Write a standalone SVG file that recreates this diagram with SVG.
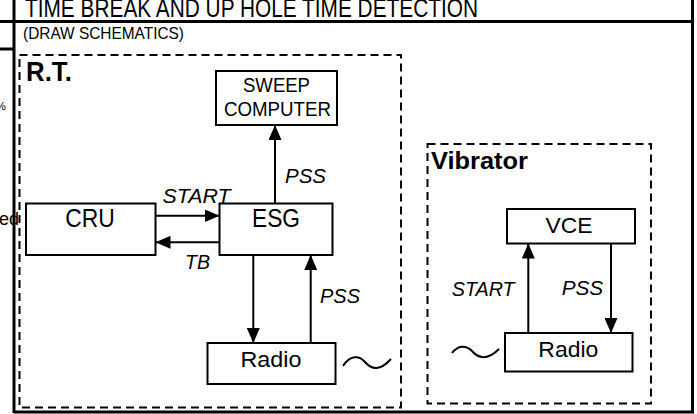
<svg xmlns="http://www.w3.org/2000/svg" width="697" height="414" viewBox="0 0 697 414">
<style>
text{font-family:"Liberation Sans",Arial,sans-serif;fill:#000}
.box{fill:#fff;stroke:#000;stroke-width:2}
.dash{fill:none;stroke:#000;stroke-width:2;stroke-dasharray:8 5}
.frame{stroke:#000;stroke-width:3;fill:none}
.conn{stroke:#000;stroke-width:2;fill:none}
.lbl{font-style:italic;font-size:20px}
.mid{text-anchor:middle}
</style>
<defs>
<marker id="ah" markerUnits="userSpaceOnUse" markerWidth="15" markerHeight="13" refX="15" refY="6.5" orient="auto">
<path d="M0,0 L15,6.5 L0,13 z" fill="#000"/>
</marker>
</defs>
<rect width="697" height="414" fill="#fff"/>
<g id="frame">
<line class="frame" x1="0" y1="21.5" x2="693" y2="21.5"/>
<line class="frame" x1="0" y1="49" x2="14" y2="49"/>
<line class="frame" x1="14" y1="0" x2="14" y2="413"/>
<line class="frame" x1="692.5" y1="0" x2="692.5" y2="413"/>
<line class="frame" x1="14" y1="412" x2="694" y2="412"/>
</g>
<text x="25" y="16.8" font-size="26" textLength="453" lengthAdjust="spacingAndGlyphs">TIME BREAK AND UP HOLE TIME DETECTION</text>
<text x="23" y="39" font-size="17" textLength="161" lengthAdjust="spacingAndGlyphs">(DRAW SCHEMATICS)</text>
<text x="-4" y="110" font-size="11">%</text>
<text x="-1" y="225" font-size="18">ed</text>
<g id="rt-group">
<rect class="dash" x="19.5" y="55" width="381.5" height="352.5"/>
<text x="26" y="81" font-size="28" font-weight="bold" textLength="46" lengthAdjust="spacingAndGlyphs">R.T.</text>
</g>
<g id="vibrator-group">
<rect class="dash" x="427.5" y="144" width="223.5" height="259.5"/>
<text x="431" y="168.5" font-size="23" font-weight="bold" textLength="97" lengthAdjust="spacingAndGlyphs">Vibrator</text>
</g>
<g id="sweep">
<rect class="box" x="216" y="71" width="121" height="54"/>
<text class="mid" x="276.5" y="91.5" font-size="21" textLength="67" lengthAdjust="spacingAndGlyphs">SWEEP</text>
<text class="mid" x="277.5" y="115.5" font-size="21" textLength="107" lengthAdjust="spacingAndGlyphs">COMPUTER</text>
</g>
<g id="cru">
<rect class="box" x="26" y="203.5" width="129.5" height="51.5"/>
<text class="mid" x="90" y="226.5" font-size="25" textLength="49.5" lengthAdjust="spacingAndGlyphs">CRU</text>
</g>
<g id="esg">
<rect class="box" x="219.5" y="203.5" width="113" height="51.5"/>
<text class="mid" x="276" y="226.5" font-size="25" textLength="48" lengthAdjust="spacingAndGlyphs">ESG</text>
</g>
<g id="radio-rt">
<rect class="box" x="207.5" y="343" width="128" height="41"/>
<text class="mid" x="271" y="367" font-size="22.5" textLength="61" lengthAdjust="spacingAndGlyphs">Radio</text>
</g>
<g id="vce">
<rect class="box" x="507" y="209" width="128" height="34.5"/>
<text class="mid" x="569" y="233.3" font-size="22.5" textLength="47" lengthAdjust="spacingAndGlyphs">VCE</text>
</g>
<g id="radio-vib">
<rect class="box" x="505" y="333" width="127.5" height="38.5"/>
<text class="mid" x="568.3" y="356.7" font-size="22.5" textLength="60" lengthAdjust="spacingAndGlyphs">Radio</text>
</g>
<g id="connectors">
<line class="conn" x1="155.5" y1="215.7" x2="219.5" y2="215.7" marker-end="url(#ah)"/>
<line class="conn" x1="219.5" y1="242.3" x2="155.5" y2="242.3" marker-end="url(#ah)"/>
<line class="conn" x1="275" y1="203.5" x2="275" y2="125" marker-end="url(#ah)"/>
<line class="conn" x1="253.3" y1="255" x2="253.3" y2="343" marker-end="url(#ah)"/>
<line class="conn" x1="310.7" y1="343" x2="310.7" y2="255" marker-end="url(#ah)"/>
<line class="conn" x1="528.3" y1="333" x2="528.3" y2="243.5" marker-end="url(#ah)"/>
<line class="conn" x1="611" y1="243.5" x2="611" y2="333" marker-end="url(#ah)"/>
<text class="lbl" x="162.5" y="203" textLength="68" lengthAdjust="spacingAndGlyphs">START</text>
<text class="lbl" x="185" y="269" font-size="19" textLength="25" lengthAdjust="spacingAndGlyphs">TB</text>
<text class="lbl" x="285" y="182.5" textLength="41" lengthAdjust="spacingAndGlyphs">PSS</text>
<text class="lbl" x="320" y="302.5" textLength="40" lengthAdjust="spacingAndGlyphs">PSS</text>
<text class="lbl" x="451.7" y="296" textLength="63" lengthAdjust="spacingAndGlyphs">START</text>
<text class="lbl" x="561.7" y="295" textLength="41.5" lengthAdjust="spacingAndGlyphs">PSS</text>
</g>
<g id="waves">
<path class="conn" stroke-width="1.5" d="M343,366 C350,355 359,355 365,362 C372,370 380,371 391,359"/>
<path class="conn" stroke-width="1.5" d="M452,353 C458,345 466,345 472,351 C478,358 487,361 499,349"/>
</g>
</svg>
